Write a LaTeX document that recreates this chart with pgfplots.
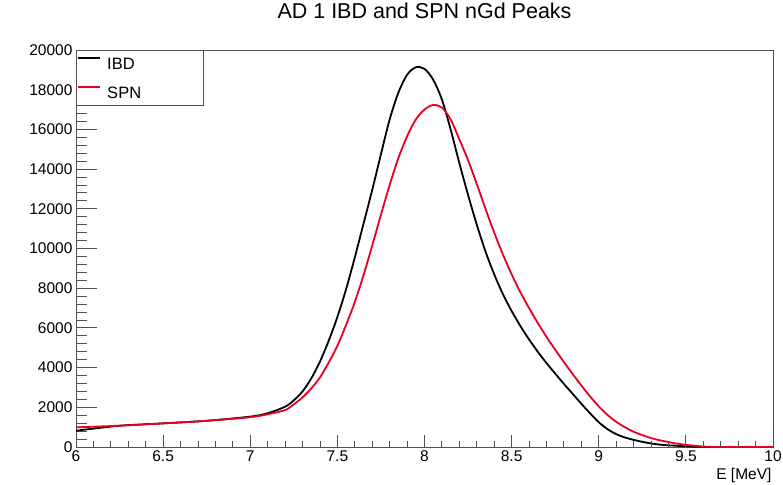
\documentclass[border=0pt]{standalone}
\usepackage{fontspec}
\setmainfont{Liberation Sans}
\usepackage{pgfplots}
\pgfplotsset{compat=1.18}
\definecolor{rootred}{RGB}{232,0,35}
\definecolor{framegray}{RGB}{80,80,80}

\begin{document}
\begin{tikzpicture}
\path[use as bounding box] (-76pt,-37pt) rectangle (707pt,447pt);
\begin{axis}[
  name=main,
  at={(0,0)}, anchor=south west,
  scale only axis, width=697pt, height=397pt,
  xmin=6, xmax=10, ymin=0, ymax=20000,
  axis line style={draw=framegray, line width=0.9pt},
  xtick={6,6.5,...,10}, ytick={0,2000,...,20000},
  minor y tick num=4,
  tick align=inside, ytick pos=left, xtick pos=bottom,
  major tick length=21pt, minor tick length=10.5pt,
  xtick style={draw=none},
  ytick style={draw=framegray, line width=0.9pt},
  scaled y ticks=false,
  /pgf/number format/assume math mode=true,
  yticklabel style={/pgf/number format/1000 sep={}, font=\fontsize{15.5}{15.5}\selectfont},
  xticklabel style={/pgf/number format/fixed, font=\fontsize{15.5}{15.5}\selectfont},
  title={AD 1 IBD and SPN nGd Peaks},
  title style={at={(0.5,1)}, anchor=base, yshift=25pt, font=\fontsize{21.5}{21.5}\selectfont},
  xlabel={E [MeV]},
  xlabel style={at={(rel axis cs:1,0)}, anchor=base east, yshift=-32pt, xshift=2pt, font=\fontsize{15.5}{15.5}\selectfont},
  legend style={at={(0,1)}, anchor=north west, draw=framegray, line width=0.9pt,
    font=\fontsize{16.5}{16.5}\selectfont, inner xsep=1pt, inner ysep=7pt, row sep=16pt, column sep=6pt,
    nodes={inner sep=0pt, text height=12pt, text depth=0pt},
    cells={anchor=west}, /tikz/every even column/.append style={text width=95pt}},
  legend cell align=left,
  legend image code/.code={\draw[#1] (0pt,5.5pt) -- (22pt,5.5pt);},
]
\addplot[black, line width=1.8pt, smooth] coordinates {
(6.0,820) (6.25,1070) (6.5,1190) (6.75,1320) (7.0,1530) (7.1,1700) (7.2,2030)
(7.25,2350) (7.3,2800) (7.35,3450) (7.4,4300) (7.45,5350) (7.5,6550) (7.55,7950)
(7.6,9550) (7.65,11250) (7.7,12950) (7.75,14750) (7.8,16500) (7.85,17850)
(7.9,18750) (7.95,19130) (8.0,19050) (8.05,18500) (8.1,17500) (8.15,16000)
(8.2,14300) (8.25,12700) (8.3,11200) (8.35,9850) (8.4,8700) (8.45,7700)
(8.5,6850) (8.55,6100) (8.6,5420) (8.65,4800) (8.7,4230) (8.75,3700) (8.8,3180)
(8.85,2680) (8.9,2180) (8.95,1700) (9.0,1250) (9.05,900) (9.1,650) (9.15,480)
(9.2,360) (9.25,260) (9.3,180) (9.35,120) (9.4,85) (9.45,60) (9.5,35) (9.55,15)
(9.6,0) (10.0,0)
};
\addlegendentry{IBD}
\addplot[rootred, line width=1.8pt, smooth] coordinates {
(6.0,990) (6.25,1075) (6.5,1190) (6.75,1320) (7.0,1500) (7.1,1650) (7.2,1860)
(7.25,2150) (7.3,2500) (7.35,2950) (7.4,3500) (7.45,4250) (7.5,5100) (7.55,6150)
(7.6,7300) (7.65,8650) (7.7,10150) (7.75,11700) (7.8,13200) (7.85,14550)
(7.9,15650) (7.95,16500) (8.0,17000) (8.05,17230) (8.1,17100) (8.15,16500)
(8.2,15500) (8.25,14450) (8.3,13250) (8.35,12000) (8.4,10800) (8.45,9700)
(8.5,8700) (8.55,7800) (8.6,7000) (8.65,6250) (8.7,5550) (8.75,4900) (8.8,4280)
(8.85,3680) (8.9,3100) (8.95,2550) (9.0,2050) (9.05,1620) (9.1,1270) (9.15,1000)
(9.2,770) (9.25,600) (9.3,450) (9.35,340) (9.4,250) (9.45,170) (9.5,110)
(9.55,60) (9.6,25) (9.65,5) (9.7,0) (10.0,0)
};
\addlegendentry{SPN}
\end{axis}
\begin{axis}[
  at={(0,0)}, anchor=south west,
  scale only axis, width=697pt, height=397pt,
  xmin=6, xmax=10, ymin=0, ymax=1,
  hide y axis,
  x axis line style={draw=none},
  xtick={6,6.5,...,10}, minor x tick num=4, xticklabels={},
  tick align=inside, xtick pos=bottom,
  major tick length=12pt, minor tick length=6pt,
  xtick style={draw=framegray, line width=0.9pt},
]
\end{axis}
\end{tikzpicture}
\end{document}
